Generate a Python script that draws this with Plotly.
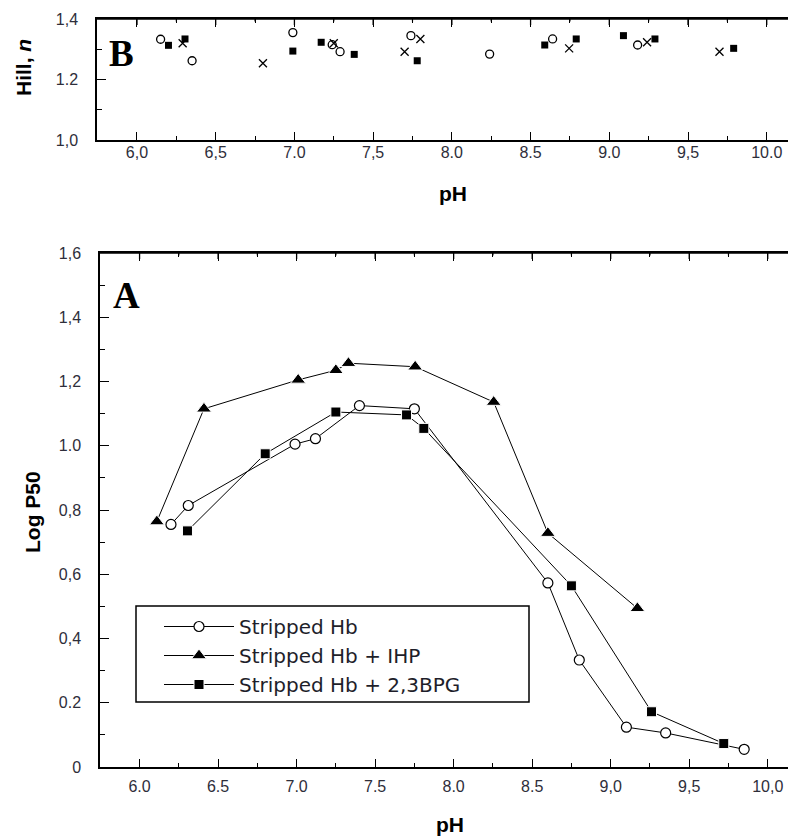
import plotly.graph_objects as go

# ---------------- Data ----------------
# Panel A: Log P50 vs pH
ph_hb = [6.20, 6.31, 6.99, 7.12, 7.40, 7.75, 8.60, 8.80, 9.10, 9.35, 9.85]
logp_hb = [0.755, 0.814, 1.005, 1.022, 1.125, 1.115, 0.573, 0.333, 0.124, 0.106, 0.055]

ph_ihp = [6.11, 6.41, 7.01, 7.25, 7.33, 7.755, 8.255, 8.60, 9.17]
logp_ihp = [0.764, 1.115, 1.205, 1.235, 1.257, 1.246, 1.136, 0.728, 0.494]

ph_bpg = [6.305, 6.80, 7.25, 7.70, 7.81, 8.75, 9.26, 9.72]
logp_bpg = [0.735, 0.975, 1.105, 1.096, 1.054, 0.564, 0.172, 0.073]

# Panel B: Hill coefficient n vs pH
ph_n_hb = [6.15, 6.35, 6.99, 7.24, 7.29, 7.74, 8.24, 8.64, 9.18]
n_hb = [1.333, 1.262, 1.355, 1.315, 1.292, 1.345, 1.284, 1.334, 1.314]

ph_n_bpg = [6.20, 6.305, 6.99, 7.17, 7.38, 7.78, 8.59, 8.79, 9.09, 9.29, 9.79]
n_bpg = [1.313, 1.334, 1.294, 1.323, 1.283, 1.262, 1.314, 1.334, 1.345, 1.334, 1.303]

ph_n_ihp = [6.29, 6.80, 7.25, 7.70, 7.80, 8.745, 9.24, 9.70]
n_ihp = [1.320, 1.254, 1.320, 1.292, 1.334, 1.303, 1.323, 1.292]

# Tick labels (as printed in the original, mixed decimal separators)
xa_tickvals = [6.0, 6.5, 7.0, 7.5, 8.0, 8.5, 9.0, 9.5, 10.0]
xa_ticktext = ["6.0", "6.5", "7.0", "7.5", "8.0", "8.5", "9,0", "9,5", "10,0"]
xb_ticktext = ["6,0", "6,5", "7.0", "7,5", "8.0", "8.5", "9.0", "9,5", "10.0"]
ya_tickvals = [0, 0.2, 0.4, 0.6, 0.8, 1.0, 1.2, 1.4, 1.6]
ya_ticktext = ["0", "0.2", "0,4", "0,6", "0,8", "1.0", "1,2", "1,4", "1,6"]
yb_tickvals = [1.0, 1.2, 1.4]
yb_ticktext = ["1,0", "1.2", "1,4"]

legend_names = ["Stripped Hb", "Stripped Hb + IHP", "Stripped Hb + 2,3BPG"]

# ---------------- Figure ----------------
OFF = 8                 # page body margin of the html page
FW, FH = 788, 828       # figure size so the page fills the 796x836 window
fig = go.Figure()


def px_x(p):
    return (p - OFF) / FW


def px_y(p):
    return 1 - (p - OFF) / FH


line_style = dict(color="black", width=1)

fig.add_trace(go.Scatter(
    x=ph_hb, y=logp_hb, mode="lines+markers", name=legend_names[0],
    line=line_style,
    marker=dict(symbol="circle", size=10, color="white", line=dict(color="black", width=1.2)),
    xaxis="x", yaxis="y"))
fig.add_trace(go.Scatter(
    x=ph_ihp, y=logp_ihp, mode="lines+markers", name=legend_names[1],
    line=line_style,
    marker=dict(symbol="triangle-up", size=13, color="black", line=dict(color="white", width=1)),
    xaxis="x", yaxis="y"))
fig.add_trace(go.Scatter(
    x=ph_bpg, y=logp_bpg, mode="lines+markers", name=legend_names[2],
    line=line_style,
    marker=dict(symbol="square", size=10, color="black", line=dict(color="white", width=1)),
    xaxis="x", yaxis="y"))

# Panel B
fig.add_trace(go.Scatter(
    x=ph_n_hb, y=n_hb, mode="markers", showlegend=False,
    marker=dict(symbol="circle-open", size=8, color="black", line=dict(width=1.3)),
    xaxis="x2", yaxis="y2"))
fig.add_trace(go.Scatter(
    x=ph_n_bpg, y=n_bpg, mode="markers", showlegend=False,
    marker=dict(symbol="square", size=7, color="black"),
    xaxis="x2", yaxis="y2"))
fig.add_trace(go.Scatter(
    x=ph_n_ihp, y=n_ihp, mode="markers", showlegend=False,
    marker=dict(symbol="x-thin", size=8, color="black", line=dict(color="black", width=1.3)),
    xaxis="x2", yaxis="y2"))

tickfont = dict(family="Liberation Sans, Arial, sans-serif", size=16, color="#2e2e3a")

minor_x = dict(ticks="inside", ticklen=4, tickwidth=1.2, tickcolor="black", dtick=0.25)
minor_y = dict(ticks="inside", ticklen=5, tickwidth=1.2, tickcolor="black", dtick=0.1)

common_x = dict(
    showline=True, linecolor="black", linewidth=1.5, mirror="ticks",
    ticks="inside", ticklen=8, tickwidth=1.3, tickcolor="black",
    minor=minor_x, automargin=False,
    showgrid=False, zeroline=False, tickfont=tickfont,
    tickmode="array", tickvals=xa_tickvals,
)
common_y = dict(
    showline=True, linecolor="black", linewidth=1.5, mirror=False,
    ticks="inside", ticklen=9, tickwidth=1.3, tickcolor="black",
    minor=minor_y, automargin=False,
    showgrid=False, zeroline=False, tickfont=tickfont,
    tickmode="array",
)

# panel geometry (window pixels)
A_LEFT, A_TOP, A_BOTTOM = 100, 253, 767
B_LEFT, B_TOP, B_BOTTOM = 97, 19, 140
WIN_W = 796

shapes = [
    # legend frame
    dict(type="rect", xref="paper", yref="paper",
         x0=px_x(136), x1=px_x(529), y0=px_y(702), y1=px_y(606),
         line=dict(color="black", width=1.5), fillcolor="rgba(0,0,0,0)", layer="above"),
]

ann_font = dict(family="Liberation Sans, Arial, sans-serif", size=21, color="black")
serif_font = dict(family="Liberation Serif, Times New Roman, serif", size=37, color="black")


def ann(text, x, y, font, angle=0):
    return dict(text=text, x=px_x(x), y=px_y(y), xref="paper", yref="paper",
                xanchor="center", yanchor="middle", showarrow=False,
                textangle=angle, font=font)


annotations = [
    ann("<b>B</b>", 121, 53, serif_font),
    ann("<b>A</b>", 126, 295, serif_font),
    ann("<b>Hill, <i>n</i></b>", 24, 67, ann_font, -90),
    ann("<b>Log P50</b>", 32, 512, ann_font, -90),
    ann("<b>pH</b>", 453, 193, ann_font),
    ann("<b>pH</b>", 450, 824, ann_font),
]

# top frame lines and top ticks (drawn as arrow-less annotation segments)
minor_vals = [v + 0.25 for v in xa_tickvals[:-1]]
for xr, left, top in (("x", A_LEFT, A_TOP), ("x2", B_LEFT, B_TOP)):
    annotations.append(dict(text="", xref="paper", yref="paper", x=px_x(left), y=px_y(top),
                            axref="pixel", ayref="pixel", ax=WIN_W - left, ay=0,
                            showarrow=True, arrowhead=0, arrowwidth=1.5, arrowcolor="black",
                            standoff=0, startstandoff=0))
    for vals, ln, wd in ((xa_tickvals, 7.5, 1.3), (minor_vals, 4, 1.2)):
        for v in vals:
            annotations.append(dict(text="", xref=xr, yref="paper", x=v, y=px_y(top),
                                    axref="pixel", ayref="pixel", ax=0, ay=ln,
                                    showarrow=True, arrowhead=0, arrowwidth=wd,
                                    arrowcolor="black", standoff=0, startstandoff=0))

fig.update_layout(
    width=FW, height=FH,
    margin=dict(l=0, r=0, t=0, b=0, autoexpand=False),
    paper_bgcolor="white", plot_bgcolor="white",
    xaxis=dict(common_x, domain=[px_x(A_LEFT), 1.0], range=[5.748, 10.18],
               ticktext=xa_ticktext, anchor="y", ticklabelstandoff=4),
    yaxis=dict(common_y, domain=[px_y(A_BOTTOM), px_y(A_TOP)], range=[0, 1.6],
               tickvals=ya_tickvals, ticktext=ya_ticktext, anchor="x",
               ticklabelstandoff=14),
    xaxis2=dict(common_x, domain=[px_x(B_LEFT), 1.0], range=[5.746, 10.186],
                ticktext=xb_ticktext, anchor="y2", ticklabelstandoff=-3),
    yaxis2=dict(common_y, domain=[px_y(B_BOTTOM), px_y(B_TOP)], range=[1.0, 1.4],
                tickvals=yb_tickvals, ticktext=yb_ticktext, anchor="x2",
                ticklabelstandoff=14),
    showlegend=True,
    legend=dict(
        x=px_x(159), y=px_y(607), xanchor="left", yanchor="top",
        borderwidth=0, bgcolor="rgba(0,0,0,0)",
        font=dict(family="DejaVu Sans, Liberation Sans, sans-serif", size=20, color="#1e1e2a"),
        itemwidth=70, tracegroupgap=0,
    ),
    shapes=shapes,
    annotations=annotations,
)

fig.write_html("out.html")
